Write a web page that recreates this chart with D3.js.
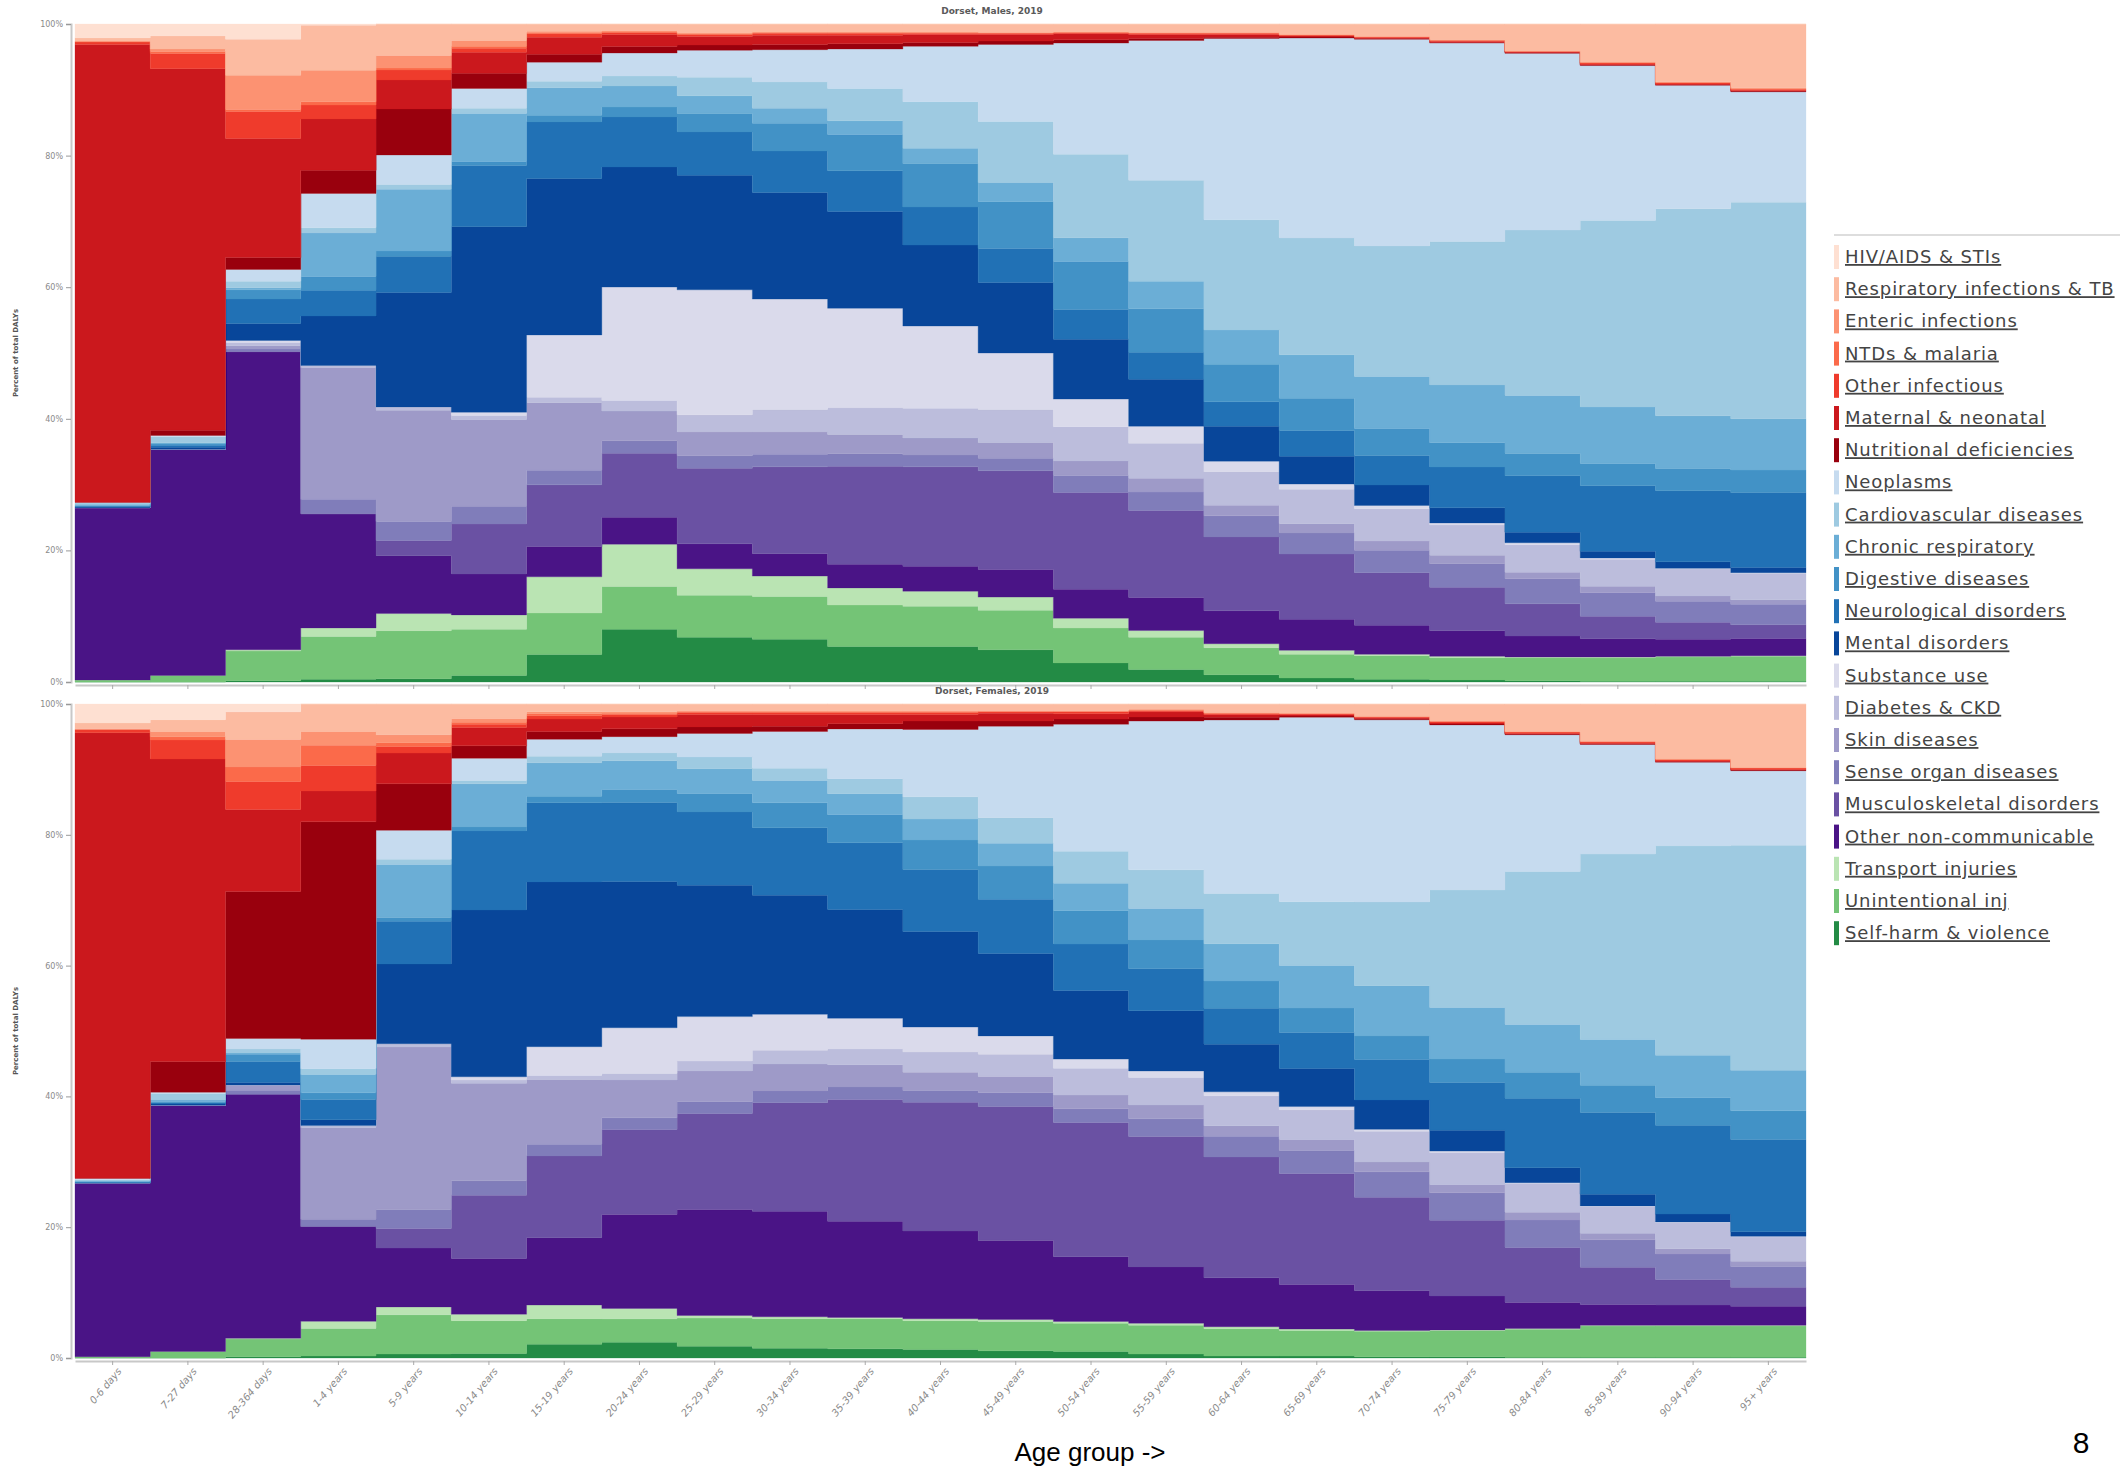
<!DOCTYPE html>
<html><head><meta charset="utf-8">
<script src="https://cdn.jsdelivr.net/npm/d3@7"></script>
<style>
html,body{margin:0;padding:0;background:#fff;}
svg{display:block;}
</style></head>
<body>
<svg id="chart" width="2127" height="1470"></svg>
<script>
// ---------- categories ----------
const ages = ["0-6 days","7-27 days","28-364 days","1-4 years","5-9 years","10-14 years","15-19 years","20-24 years","25-29 years","30-34 years","35-39 years","40-44 years","45-49 years","50-54 years","55-59 years","60-64 years","65-69 years","70-74 years","75-79 years","80-84 years","85-89 years","90-94 years","95+ years"];

// legend order (top of stack first)
const causes = ["HIV/AIDS & STIs","Respiratory infections & TB","Enteric infections","NTDs & malaria","Other infectious","Maternal & neonatal","Nutritional deficiencies","Neoplasms","Cardiovascular diseases","Chronic respiratory","Digestive diseases","Neurological disorders","Mental disorders","Substance use","Diabetes & CKD","Skin diseases","Sense organ diseases","Musculoskeletal disorders","Other non-communicable","Transport injuries","Unintentional inj","Self-harm & violence"];
const causeColors = ["#fee0d2","#fcbba1","#fc9272","#fb6a4a","#ef3b2c","#cb181d","#99000d","#c6dbef","#9ecae1","#6baed6","#4292c6","#2171b5","#08469a","#dadaeb","#bcbddc","#9e9ac8","#807dba","#6a51a3","#4a1486","#bae4b3","#74c476","#238b45"];
const yTicks = [0,0.2,0.4,0.6,0.8,1];

// ---------- Males (% of DALYs per age group) ----------
const mHIV  = [2.1,1.8,2.3,0.2,0,0,0,0,0,0,0,0,0,0,0,0,0,0,0,0,0,0,0];
const mRESP = [0.5,2.0,5.5,6.8,4.8,2.5,1.1,1.0,1.3,1.2,1.2,1.2,1.3,1.2,1.3,1.3,1.6,1.9,2.4,4.1,5.8,8.8,9.7];
const mENT  = [0.1,0.4,5.2,4.8,1.9,0.9,0.2,0.2,0.2,0.1,0.1,0.1,0.05,0.05,0.05,0.05,0.05,0.05,0.08,0.05,0.1,0.1,0.15];
const mNTD  = [0,0.3,0.3,0.5,0.3,0.3,0.2,0.1,0.1,0.1,0.1,0.1,0.05,0.05,0.05,0.05,0.03,0.02,0.02,0.02,0.03,0.03,0.05];
const mOI   = [0.4,2.3,4.1,2.1,1.5,0.6,0.5,0.3,0.3,0.3,0.3,0.2,0.2,0.2,0.2,0.2,0.1,0.1,0.15,0.1,0.2,0.2,0.2];
const mMAT  = [69.6,55.0,18.1,7.8,4.4,3.2,2.6,1.8,1.3,1.4,1.3,1.2,1.0,0.9,0.6,0.4,0.2,0.15,0.15,0.1,0.1,0.1,0.1];
const mNUT  = [0,0.8,1.8,3.5,7.0,2.3,1.2,1.0,0.8,0.8,0.8,0.6,0.5,0.5,0.3,0.2,0.15,0.1,0.1,0.1,0.1,0.1,0.1];
const mNEO  = [0.1,0.2,1.8,5.2,4.5,3.0,2.9,3.5,4.1,4.9,6.0,8.4,11.7,16.9,21.2,27.5,30.3,31.4,30.2,26.9,23.6,18.8,16.8];
const mCVD  = [0.2,0.9,1.0,0.8,0.7,0.8,1.0,1.5,2.8,4.0,4.9,7.1,9.3,12.7,15.3,16.7,17.7,19.8,21.8,25.2,28.4,31.5,32.9];
const mCR   = [0.2,0.2,0.3,6.6,9.4,7.3,4.2,3.2,2.7,2.3,2.1,2.3,2.9,3.6,4.2,5.2,6.6,7.9,8.8,8.8,8.6,8.0,7.8];
const mDIG  = [0.1,0.2,1.4,2.1,0.8,0.6,1.0,1.5,2.8,4.2,5.5,6.6,7.1,7.3,6.6,5.7,4.9,4.1,3.7,3.4,3.4,3.4,3.4];
const mNEU  = [0.1,0.3,3.7,3.9,5.5,9.3,8.6,7.6,6.6,6.3,6.2,5.8,5.2,4.5,4.1,3.7,3.9,4.5,6.2,8.6,10.0,10.8,11.4];
const mMEN  = [0.1,0.3,2.6,7.5,17.4,28.2,23.8,18.2,17.4,16.2,14.7,12.3,10.7,9.1,7.1,5.3,4.2,3.1,2.3,1.6,1.0,1.0,0.8];
const mSUB  = [0,0,0.3,0,0,0.5,9.5,17.2,19.0,16.8,15.1,12.5,8.6,4.2,2.6,1.6,0.8,0.5,0.3,0.3,0.2,0.1,0.1];
const mDIA  = [0,0,0.5,0.3,0.5,0.6,0.8,1.6,2.6,3.4,4.1,4.5,5.0,5.2,5.3,5.1,5.2,4.9,4.6,4.2,4.1,4.1,4.0];
const mSKN  = [0,0,0.5,20.0,16.9,13.2,10.3,4.5,3.6,3.4,2.9,2.6,2.4,2.2,2.1,1.6,1.4,1.4,1.3,1.0,1.0,0.8,0.7];
const mSEN  = [0,0,0.4,2.2,2.9,2.7,2.2,1.9,1.9,1.9,1.9,1.8,1.9,2.6,2.8,3.2,3.2,3.4,3.6,3.8,3.6,3.2,3.1];
const mMSK  = [0,0,0,0,2.3,7.6,9.4,9.7,11.5,13.2,14.9,15.1,15.0,14.7,13.2,11.2,9.9,8.0,6.6,4.9,3.4,2.6,2.1];
const mONC  = [26.2,34.4,45.3,17.3,8.8,6.2,4.6,4.1,3.8,3.4,3.6,3.8,4.2,4.4,5.0,5.0,4.7,4.4,3.9,3.2,2.8,2.6,2.6];
const mTR   = [0,0,0.2,1.3,2.6,2.2,5.5,6.4,4.0,3.1,2.6,2.3,2.0,1.5,1.0,0.6,0.6,0.2,0.2,0.1,0.1,0.1,0.1];
const mUI   = [0.3,1.0,4.5,6.5,7.3,7.0,6.3,6.5,6.4,6.5,6.3,6.1,6.0,5.3,4.9,4.1,3.6,3.6,3.4,3.5,3.6,3.7,3.8];
const mSH   = [0,0,0.2,0.4,0.5,1.0,4.2,8.0,6.8,6.5,5.4,5.4,4.9,2.9,1.9,1.1,0.6,0.4,0.3,0.2,0.1,0.1,0.1];

// ---------- Females ----------
const fHIV  = [2.9,2.4,1.2,0,0,0,0,0,0,0,0,0,0,0,0,0,0,0,0,0,0,0,0];
const fRESP = [0.9,1.8,4.2,4.2,4.7,2.2,1.2,1.2,1.0,1.0,1.0,1.0,1.0,1.0,0.8,1.3,1.4,1.9,2.6,4.2,5.7,8.4,9.7];
const fENT  = [0.1,0.8,4.2,2.1,1.2,0.6,0.3,0.2,0.2,0.2,0.2,0.2,0.15,0.15,0.15,0.1,0.05,0.05,0.08,0.08,0.08,0.08,0.08];
const fNTD  = [0,0.5,2.2,3.1,0.6,0.3,0.3,0.2,0.1,0.1,0.1,0.1,0.05,0.05,0.05,0.05,0.02,0.02,0.02,0.02,0.02,0.02,0.02];
const fOI   = [0.5,2.9,4.3,3.9,1.0,0.5,0.5,0.4,0.3,0.3,0.3,0.3,0.2,0.3,0.2,0.2,0.15,0.15,0.2,0.2,0.2,0.2,0.2];
const fMAT  = [68.2,46.2,12.5,4.7,4.7,2.8,1.9,1.8,1.9,1.8,1.4,1.0,1.2,0.8,0.8,0.4,0.2,0.15,0.15,0.1,0.1,0.1,0.1];
const fNUT  = [0,4.7,22.4,33.2,7.1,1.9,1.2,1.2,1.0,0.8,0.8,1.3,0.8,0.8,0.6,0.4,0.2,0.15,0.15,0.1,0.1,0.1,0.1];
const fNEO  = [0.2,0.2,1.6,4.5,4.4,3.4,2.6,2.5,3.6,5.6,7.6,10.3,14.0,19.4,22.7,26.6,28.1,27.9,25.3,20.9,16.8,12.8,11.4];
const fCVD  = [0.2,1.0,0.6,0.9,0.8,0.5,1.0,1.2,1.8,1.9,2.3,3.4,3.9,4.9,5.9,7.7,9.7,12.8,18.0,23.4,28.4,32.0,34.4];
const fCR   = [0.1,0.2,0.2,2.8,8.1,6.6,5.1,4.4,3.8,3.4,3.2,3.2,3.5,4.2,4.8,5.7,6.5,7.7,7.9,7.3,7.0,6.5,6.2];
const fDIG  = [0.1,0.2,1.1,1.0,0.6,0.6,1.0,2.0,2.8,3.8,4.3,4.5,5.1,5.1,4.4,4.2,3.7,3.6,3.6,4.0,4.2,4.2,4.4];
const fNEU  = [0.1,0.2,3.2,3.1,6.5,12.1,12.1,12.1,11.2,10.3,10.2,9.5,8.3,7.1,6.4,5.5,5.5,6.2,7.3,10.6,12.5,13.6,14.1];
const fMEN  = [0,0.2,0.4,0.9,12.2,25.5,25.2,22.4,20.1,18.2,16.6,14.6,12.6,10.5,9.2,7.3,5.8,4.5,3.2,2.3,1.8,1.2,0.7];
const fSUB  = [0,0,0,0,0,0.5,4.4,7.0,6.8,5.5,4.7,3.8,2.8,1.4,1.0,0.6,0.5,0.3,0.2,0.1,0.1,0.1,0.1];
const fDIA  = [0,0,0,0.3,0.5,0.5,0.6,1.0,1.5,2.1,2.4,3.1,3.4,4.1,4.2,4.6,4.5,4.7,4.9,4.4,4.1,4.0,3.7];
const fSKN  = [0,0,0.8,14.0,24.8,14.9,9.9,5.8,4.7,4.1,3.4,2.8,2.5,2.1,2.1,1.6,1.7,1.5,1.3,1.2,1.0,0.8,0.8];
const fSEN  = [0,0,0.6,1.1,2.9,2.2,1.8,1.8,1.8,1.8,1.9,1.8,2.1,2.1,2.7,3.2,3.5,3.9,4.2,4.2,4.2,3.9,3.2];
const fMSK  = [0,0,0,0,3.0,9.7,12.5,13.0,14.7,16.6,18.6,19.7,20.5,20.5,19.9,18.5,16.9,14.3,11.6,8.4,5.7,3.9,2.9];
const fONC  = [26.6,37.6,37.2,14.5,9.0,8.5,10.3,14.4,16.2,16.1,14.7,13.4,12.1,9.9,8.6,7.5,6.8,6.1,5.2,4.0,3.2,3.1,2.9];
const fTR   = [0,0,0.1,1.1,1.2,1.0,2.1,1.6,0.4,0.3,0.2,0.3,0.3,0.3,0.3,0.3,0.2,0.1,0.1,0.1,0.1,0.1,0.1];
const fUI   = [0.2,1.0,2.7,4.2,6.0,5.0,3.9,3.6,4.3,4.5,4.6,4.4,4.5,4.3,4.4,4.2,3.9,3.9,4.0,4.3,4.8,4.8,4.8];
const fSH   = [0,0,0.2,0.3,0.6,0.7,2.1,2.4,1.8,1.5,1.4,1.3,1.1,1.0,0.6,0.3,0.3,0.2,0.2,0.1,0.1,0.1,0.1];

const maleArrays   = [mHIV,mRESP,mENT,mNTD,mOI,mMAT,mNUT,mNEO,mCVD,mCR,mDIG,mNEU,mMEN,mSUB,mDIA,mSKN,mSEN,mMSK,mONC,mTR,mUI,mSH];
const femaleArrays = [fHIV,fRESP,fENT,fNTD,fOI,fMAT,fNUT,fNEO,fCVD,fCR,fDIG,fNEU,fMEN,fSUB,fDIA,fSKN,fSEN,fMSK,fONC,fTR,fUI,fSH];

// ---------- drawing ----------
const svg = d3.select("#chart");
const color = d3.scaleOrdinal().domain(causes).range(causeColors);
const stackKeys = causes.slice().reverse(); // bottom of stack first
const x = d3.scaleBand().domain(ages).range([75, 1806]).padding(0);

function rowsFor(arrs){
  return ages.map((a,i)=>{
    const r = {age:a};
    causes.forEach((c,k)=>{ r[c] = arrs[k][i]; });
    return r;
  });
}

function drawPanel(arrs, top, bottom, title, showLabels){
  const y = d3.scaleLinear().domain([0,1]).range([bottom, top]);
  const stacked = d3.stack().keys(stackKeys).offset(d3.stackOffsetExpand)(rowsFor(arrs));
  const area = d3.area().x(d=>d.x).y0(d=>y(d.y0)).y1(d=>y(d.y1)).curve(d3.curveLinear);
  const g = svg.append("g");
  stacked.forEach(s=>{
    const pts = [];
    s.forEach((d,i)=>{
      const x0 = x(ages[i]), x1 = x0 + x.bandwidth();
      pts.push({x:x0, y0:d[0], y1:d[1]});
      pts.push({x:x1, y0:d[0], y1:d[1]});
    });
    g.append("path").attr("d", area(pts)).attr("fill", color(s.key))
      .attr("stroke", color(s.key)).attr("stroke-width", 0.3);
  });

  // y axis
  const ya = svg.append("g").attr("transform","translate(71,0)")
    .call(d3.axisLeft(y).tickValues(yTicks).tickFormat(d3.format(".0%")).tickSize(5).tickPadding(3));
  ya.select(".domain").attr("stroke","#c8c8c8").attr("stroke-width",2);
  ya.selectAll(".tick line").attr("stroke","#999");
  ya.selectAll("text").attr("fill","#8a8a8a").style("font-family","'DejaVu Sans', Verdana, sans-serif").style("font-size","8px");

  // x axis
  const xa = svg.append("g").attr("transform",`translate(0,${bottom+3})`)
    .call(d3.axisBottom(x).tickSize(4).tickSizeOuter(0).tickPadding(4));
  xa.select(".domain").attr("stroke","#c8c8c8").attr("stroke-width",2);
  xa.selectAll(".tick line").attr("stroke","#aaa");
  if(showLabels){
    xa.selectAll("text").attr("fill","#8a8a8a")
      .style("font-family","'DejaVu Sans', Verdana, sans-serif").style("font-size","10px").style("font-style","italic")
      .attr("text-anchor","end").attr("dx","-0.2em").attr("dy","0.6em")
      .attr("transform","rotate(-50)");
  } else {
    xa.selectAll("text").remove();
  }

  // title
  svg.append("text").attr("x",992).attr("y",top-10).attr("text-anchor","middle")
    .attr("fill","#5a5a5a").style("font-family","'DejaVu Sans', Verdana, sans-serif")
    .style("font-size","9px").style("font-weight","bold").text(title);

  // y title
  svg.append("text").attr("transform",`translate(18,${(top+bottom)/2}) rotate(-90)`)
    .attr("text-anchor","middle").attr("fill","#555")
    .style("font-family","'DejaVu Sans', Verdana, sans-serif").style("font-size","7px").style("font-weight","bold")
    .text("Percent of total DALYs");
}

drawPanel(maleArrays, 24, 682, "Dorset, Males, 2019", false);
drawPanel(femaleArrays, 704, 1358, "Dorset, Females, 2019", true);

// legend
const lg = svg.append("g");
lg.append("line").attr("x1",1834).attr("x2",2120).attr("y1",235).attr("y2",235).attr("stroke","#ddd").attr("stroke-width",2);
const item = lg.selectAll("g.item").data(causes).join("g").attr("class","item")
  .attr("transform",(d,i)=>`translate(1834,${257 + i*32.2})`);
item.append("rect").attr("x",0).attr("y",-12).attr("width",5).attr("height",24).attr("fill",d=>color(d));
item.append("text").attr("x",11).attr("y",6).attr("fill","#444")
  .style("font-family","'DejaVu Sans', Verdana, sans-serif").style("font-size","18px")
  .style("letter-spacing","0.9px")
  .style("text-decoration","underline").text(d=>d);

// footer texts
svg.append("text").attr("x",1090).attr("y",1461).attr("text-anchor","middle").attr("fill","#000")
  .style("font-family","'Liberation Sans', Arial, sans-serif").style("font-size","26px").text("Age group ->");
svg.append("text").attr("x",2081).attr("y",1453).attr("text-anchor","middle").attr("fill","#000")
  .style("font-family","'Liberation Sans', Arial, sans-serif").style("font-size","30px").text("8");
</script>
</body></html>
